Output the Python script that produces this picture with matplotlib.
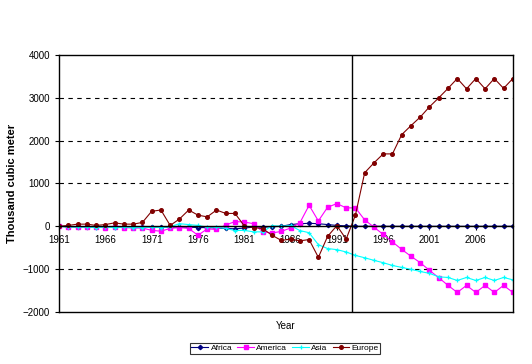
import numpy as np
import matplotlib.pyplot as plt

plt.rcParams['font.family'] = ['Liberation Sans', 'DejaVu Sans']

years = list(range(1961, 2011))

africa = [0, -10, -10, -10, -10, -10, -10, -10, -10, -10,
          -20, -20, -20, -20, -20, -30, -30, -40, -50, -60,
          -40, -20, -20, -10, 0, 40, 60, 70, 60, 40,
          20, 10, 0, 0, 0, 0, 0, 0, 0, 0,
          0, 0, 0, 0, 0, 0, 0, 0, 0, 0]

america = [0, -10, -20, -10, -20, -30, -20, -30, -40, -40,
           -95, -115, -50, -30, -50, -210, -60, -75, 30, 110,
           100, 60, -130, -155, -120, -40, 80, 490, 125, 445,
           530, 430, 430, 150, -20, -190, -365, -540, -700, -850,
           -1030, -1200, -1380, -1545, -1380, -1545, -1380, -1545, -1380, -1545]

asia = [0, -20, -20, -20, -30, -20, -30, -20, -30, -30,
        -20, -30, -10, 60, 40, 20, -20, -20, -50, -100,
        -95, -130, -130, 15, 0, 20, -100, -150, -430, -520,
        -545, -600, -680, -735, -795, -850, -915, -960, -1005, -1055,
        -1100, -1180, -1195, -1265, -1195, -1265, -1195, -1265, -1195, -1250]

europe = [0, 20, 50, 50, 20, 40, 80, 50, 50, 90,
          350, 380, 20, 170, 380, 260, 220, 380, 300, 300,
          10, -30, -55, -210, -330, -300, -340, -310, -725, -235,
          15, -300, 260, 1250, 1480, 1690, 1690, 2140, 2350, 2550,
          2790, 3000, 3220, 3450, 3210, 3450, 3210, 3450, 3220, 3450]

fig = plt.figure(figsize=(5.32, 3.64), dpi=100)
ax = fig.add_axes([0.111, 0.143, 0.853, 0.706])

ax.plot(years, africa, color='#000080', marker='D', markersize=2.2, lw=0.8, label='Africa')
ax.plot(years, america, color='#FF00FF', marker='s', markersize=3, lw=0.8, label='America')
ax.plot(years, asia, color='#00FFFF', marker='+', markersize=3.5, mew=0.9, lw=0.8, label='Asia')
ax.plot(years, europe, color='#800000', marker='o', markersize=2.6, lw=0.8, label='Europe')

ax.set_xlim(1961, 2010)
ax.set_ylim(-2000, 4000)
ax.set_yticks([-2000, -1000, 0, 1000, 2000, 3000, 4000])
ax.set_xticks(range(1961, 2010, 5))
for g in [-1000, 1000, 2000, 3000]:
    ax.axhline(g, color='black', lw=0.8, ls=(0, (4, 4)), zorder=0)

ax.spines['bottom'].set_position(('data', 0))
ax.axhline(-2000, color='black', lw=1, clip_on=False)
ax.axvline(1992.6, color='black', lw=1)
for s in ax.spines.values():
    s.set_linewidth(1)

ax.tick_params(axis='x', length=3, direction='out', labelsize=7, pad=3)
ax.tick_params(axis='y', length=3, direction='out', labelsize=7)

ax.set_ylabel('Thousand cubic meter', fontsize=8, fontweight='bold')
fig.text(0.536, 0.095, 'Year', ha='center', fontsize=7)

leg = fig.legend(loc='center', bbox_to_anchor=(0.536, 0.043), ncol=4, fontsize=6,
                 frameon=True, fancybox=False, edgecolor='black', handlelength=2.0,
                 columnspacing=0.6, handletextpad=0.3, borderpad=0.15,
                 borderaxespad=0)
leg.get_frame().set_linewidth(0.8)

fig.savefig('out.png', dpi=100)
